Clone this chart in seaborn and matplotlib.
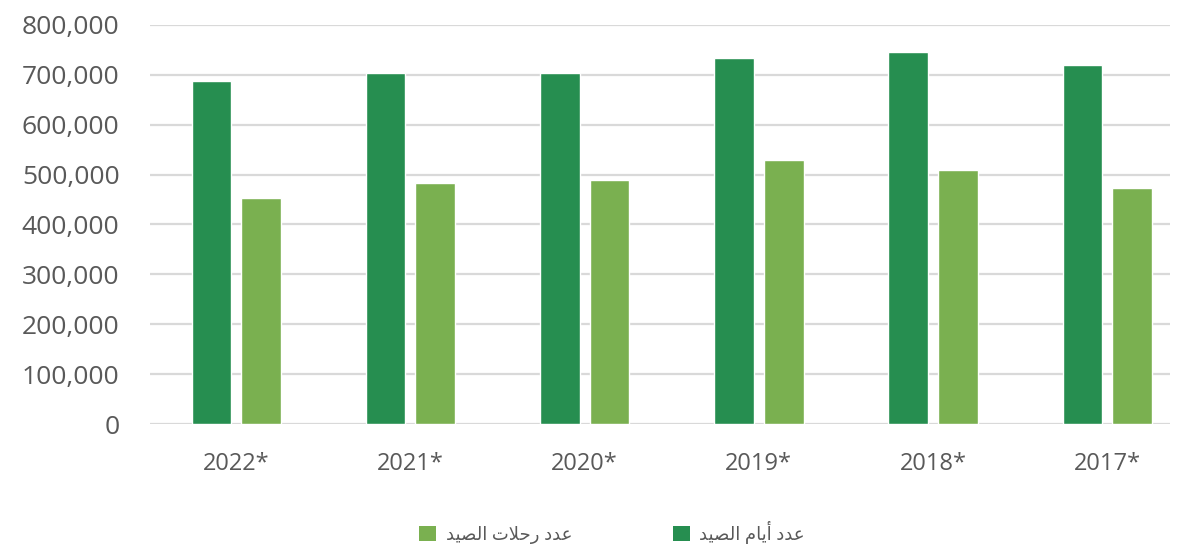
import matplotlib
matplotlib.use("Agg")
import matplotlib.pyplot as plt
import seaborn as sns
import pandas as pd
from matplotlib.patches import Patch

# ---- data ----
years = ["2022*", "2021*", "2020*", "2019*", "2018*", "2017*"]
fishing_days = [688000, 703000, 703000, 734000, 745000, 719000]   # عدد أيام الصيد
fishing_trips = [453000, 484000, 489000, 530000, 510000, 474000]  # عدد رحلات الصيد

# Arabic labels (logical) and their visually-shaped forms for rendering
label_days_logical = "عدد أيام الصيد"
label_trips_logical = "عدد رحلات الصيد"
label_days = "\uFEAA\uFEF4\uFEBC\uFEDF\uFE8D \uFEE1\uFE8E\uFEF3\uFE83 \uFEA9\uFEAA\uFECB"
label_trips = "\uFEAA\uFEF4\uFEBC\uFEDF\uFE8D \uFE95\uFEFC\uFEA3\uFEAD \uFEA9\uFEAA\uFECB"

yticks = [0, 100000, 200000, 300000, 400000, 500000, 600000, 700000, 800000]

df = pd.DataFrame({
    "year": years * 2,
    "value": fishing_days + fishing_trips,
    "series": [label_days] * len(years) + [label_trips] * len(years),
})

dark = "#268E50"
light = "#7AB050"
txt = "#595959"

sns.set_theme(style="white")
plt.rcParams["font.family"] = ["Open Sans", "DejaVu Sans"]

fig = plt.figure(figsize=(11.87, 5.47), dpi=100)
ax = fig.add_axes([150 / 1187, 1 - 424 / 547, 1020 / 1187, 399 / 547])

sns.barplot(data=df, x="year", y="value", hue="series",
            hue_order=[label_days, label_trips], order=years,
            palette=[dark, light], width=0.57, gap=0.2, dodge=True,
            saturation=1, legend=False, ax=ax)

ax.set_ylim(0, 800000)
ax.set_xlim(-0.495, 5.36)
ax.set_yticks(yticks)
ax.set_yticklabels([f"{v:,}" for v in yticks])
ax.yaxis.grid(True, color="#D9D9D9", linewidth=1.6)
ax.set_axisbelow(True)
for s in ax.spines.values():
    s.set_visible(False)
ax.set_xlabel("")
ax.set_ylabel("")
ax.tick_params(axis="y", length=0, pad=22, labelsize=19, labelcolor=txt)
ax.tick_params(axis="x", length=0, pad=20, labelsize=17, labelcolor=txt)

handles = [Patch(facecolor=light, edgecolor="none"), Patch(facecolor=dark, edgecolor="none")]
fig.legend(handles, [label_trips, label_days], loc="center", ncol=2,
           bbox_to_anchor=(612 / 1187, 1 - 532 / 547), frameon=False,
           fontsize=13, labelcolor=txt, handlelength=0.95, handleheight=0.95,
           handletextpad=0.5, columnspacing=5.6)

fig.savefig("out.png", dpi=100)
